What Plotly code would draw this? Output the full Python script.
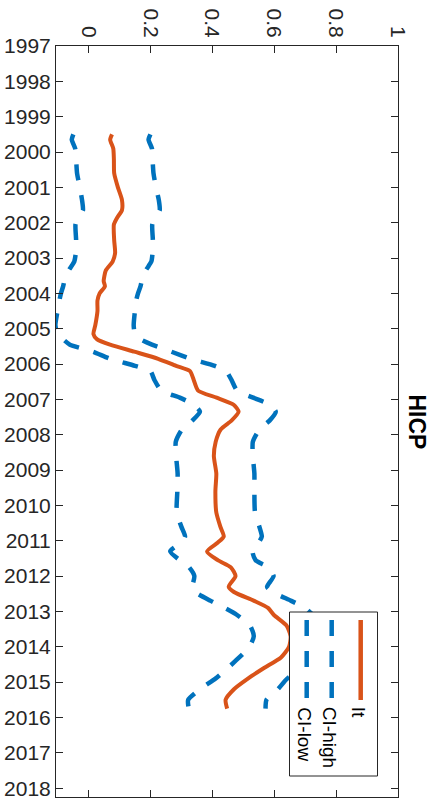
import plotly.graph_objects as go

# ---------------- data ----------------
years = [1999.5, 1999.65, 1999.9, 2000.2, 2000.6, 2001.0, 2001.35, 2001.65, 2001.85, 2002.05,
         2002.5, 2002.85, 2003.1, 2003.35, 2003.65, 2003.8, 2004.0, 2004.2, 2004.5, 2004.9,
         2005.15, 2005.3, 2005.45, 2005.65, 2005.85, 2006.05, 2006.2, 2006.45, 2006.75, 2006.95,
         2007.15, 2007.35, 2007.6, 2007.85, 2008.2, 2008.6, 2009.1, 2009.6, 2010.2, 2010.6,
         2010.88, 2011.05, 2011.3, 2011.55, 2011.75, 2012.0, 2012.3, 2012.45, 2012.7, 2012.9,
         2013.1, 2013.4, 2013.7, 2014.0, 2014.3, 2014.6, 2014.9, 2015.2, 2015.5, 2015.75]

lt = [0.076, 0.070, 0.080, 0.082, 0.083, 0.095, 0.108, 0.108, 0.093, 0.082,
      0.083, 0.086, 0.078, 0.056, 0.049, 0.053, 0.036, 0.029, 0.029, 0.022,
      0.016, 0.028, 0.070, 0.148, 0.225, 0.283, 0.328, 0.340, 0.354, 0.414,
      0.469, 0.485, 0.462, 0.427, 0.411, 0.405, 0.413, 0.410, 0.413, 0.426,
      0.437, 0.418, 0.383, 0.418, 0.460, 0.475, 0.453, 0.470, 0.535, 0.580,
      0.599, 0.640, 0.653, 0.648, 0.622, 0.567, 0.515, 0.470, 0.443, 0.448]

ci_high = [0.200, 0.194, 0.205, 0.207, 0.210, 0.218, 0.227, 0.230, 0.215, 0.206,
           0.208, 0.207, 0.203, 0.185, 0.172, 0.168, 0.160, 0.154, 0.150, 0.146,
           0.150, 0.168, 0.205, 0.268, 0.330, 0.408, 0.445, 0.462, 0.480, 0.532,
           0.585, 0.605, 0.585, 0.552, 0.531, 0.531, 0.536, 0.536, 0.538, 0.552,
           0.560, 0.550, 0.530, 0.540, 0.580, 0.598, 0.577, 0.595, 0.655, 0.700,
           0.725, 0.762, 0.775, 0.770, 0.745, 0.695, 0.642, 0.612, 0.575, 0.572]

ci_low = [-0.049, -0.054, -0.043, -0.040, -0.037, -0.028, -0.021, -0.018, -0.033, -0.042,
          -0.040, -0.041, -0.046, -0.064, -0.078, -0.082, -0.089, -0.094, -0.100, -0.107,
          -0.100, -0.082, -0.060, 0.015, 0.070, 0.150, 0.200, 0.213, 0.235, 0.295,
          0.340, 0.360, 0.335, 0.302, 0.282, 0.283, 0.288, 0.287, 0.285, 0.300,
          0.312, 0.300, 0.264, 0.295, 0.325, 0.342, 0.336, 0.345, 0.395, 0.440,
          0.480, 0.522, 0.534, 0.520, 0.487, 0.450, 0.410, 0.360, 0.322, 0.324]

year_ticks = list(range(1997, 2019))
value_ticks = [0, 0.2, 0.4, 0.6, 0.8, 1]
value_labels = ["0", "0.2", "0.4", "0.6", "0.8", "1"]
series_names = ["It", "CI-high", "CI-low"]
title_text = "HICP"

# ---------------- styles ----------------
ORANGE = "#D95319"
BLUE = "#0072BD"
AXIS = "#262626"
FONT = "Liberation Sans, Arial, Helvetica, sans-serif"
W, H = 434, 801
ML, MR, MT, MB = 56, 36, 46, 4
PW, PH = W - ML - MR, H - MT - MB
DASH = "16px,15px"


def px_x(p):
    return (p - ML) / PW


def px_y(p):
    return (H - MB - p) / PH


fig = go.Figure()
fig.add_trace(go.Scatter(x=ci_high, y=years, mode="lines", name=series_names[1],
                         line=dict(color=BLUE, width=4.5, dash=DASH, shape="spline", smoothing=0.6),
                         showlegend=False))
fig.add_trace(go.Scatter(x=ci_low, y=years, mode="lines", name=series_names[2],
                         line=dict(color=BLUE, width=4.5, dash=DASH, shape="spline", smoothing=0.6),
                         showlegend=False))
fig.add_trace(go.Scatter(x=lt, y=years, mode="lines", name=series_names[0],
                         line=dict(color=ORANGE, width=4, shape="spline", smoothing=0.6),
                         showlegend=False))

# ---------- rotated legend (drawn manually because the figure is rotated) ----------
shapes = [dict(type="rect", xref="paper", yref="paper",
               x0=px_x(289.5), x1=px_x(377.5), y0=px_y(776), y1=px_y(612),
               fillcolor="white", line=dict(color=AXIS, width=1), layer="above")]
leg_x = [360.7, 331.7, 306.7]
leg_col = [ORANGE, BLUE, BLUE]
leg_dash = ["solid", DASH, DASH]
annotations = []
for name, lx, c, d in zip(series_names, leg_x, leg_col, leg_dash):
    shapes.append(dict(type="line", xref="paper", yref="paper",
                       x0=px_x(lx), x1=px_x(lx), y0=px_y(620), y1=px_y(700),
                       line=dict(color=c, width=4.5, dash=d), layer="above"))
    annotations.append(dict(text=name, xref="paper", yref="paper",
                            x=px_x(lx - 2), y=px_y(705), xanchor="center", yanchor="top",
                            textangle=90, showarrow=False,
                            font=dict(family=FONT, size=19, color="black")))

annotations.append(dict(text="<b>" + title_text + "</b>", xref="paper", yref="paper",
                        x=px_x(417), y=0.5, xanchor="center", yanchor="middle",
                        textangle=90, showarrow=False,
                        font=dict(family=FONT, size=23, color="black")))

fig.update_layout(
    width=W, height=H,
    margin=dict(l=ML, r=MR, t=MT, b=MB, pad=0, autoexpand=False),
    paper_bgcolor="white", plot_bgcolor="white",
    font=dict(family=FONT, size=21, color=AXIS),
    shapes=shapes, annotations=annotations,
    showlegend=False,
    xaxis=dict(side="top", range=[-0.105, 1], tickvals=value_ticks, ticktext=value_labels,
               tickangle=90, ticks="inside", ticklen=7, tickcolor=AXIS, tickwidth=1,
               showline=True, linecolor=AXIS, linewidth=1, mirror="ticks", automargin=False,
               showgrid=False, zeroline=False, tickfont=dict(size=21, color=AXIS)),
    yaxis=dict(range=[2018.25, 1997], tickvals=year_ticks, ticktext=[str(y) for y in year_ticks],
               ticks="inside", ticklen=7, tickcolor=AXIS, tickwidth=1, automargin=False,
               showline=True, linecolor=AXIS, linewidth=1, mirror="ticks",
               showgrid=False, zeroline=False, tickfont=dict(size=21, color=AXIS)),
)

fig.write_html("out.html", config={"displayModeBar": False},
               post_script="document.body.style.margin='0px';")
